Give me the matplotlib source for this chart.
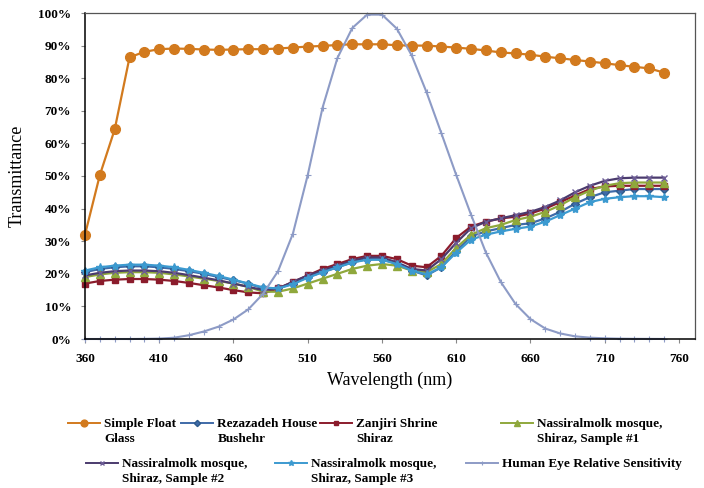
import matplotlib
matplotlib.use("Agg")
import matplotlib.pyplot as plt
from matplotlib.lines import Line2D
from matplotlib.ticker import FixedLocator, FuncFormatter, MultipleLocator

# Wavelength grid (nm)
wavelength = list(range(360, 760, 10))
x_ticks = [360, 410, 460, 510, 560, 610, 660, 710, 760]

# Transmittance (%) of each glass sample
simple_float = [32.0, 50.3, 64.3, 86.4, 88.1, 88.9, 89.1, 89.0, 88.8, 88.7,
                88.8, 88.9, 88.9, 89.1, 89.4, 89.7, 89.9, 90.2, 90.4, 90.4,
                90.4, 90.1, 90.0, 90.0, 89.7, 89.4, 89.0, 88.5, 87.9, 87.6,
                87.2, 86.6, 86.1, 85.6, 85.1, 84.6, 84.0, 83.5, 83.0, 81.7]
rezazadeh = [20.5, 21.5, 22.0, 22.3, 22.3, 22.0, 21.5, 20.8, 20.0, 19.0,
             18.0, 17.0, 15.5, 15.5, 17.0, 19.0, 20.5, 22.0, 23.5, 24.5,
             24.5, 23.0, 21.0, 19.5, 22.0, 27.0, 31.5, 33.0, 34.0, 35.0,
             35.5, 37.0, 39.0, 41.5, 43.5, 45.0, 45.5, 46.0, 46.0, 46.0]
zanjiri = [17.0, 17.8, 18.2, 18.4, 18.4, 18.2, 17.8, 17.2, 16.5, 15.8,
           15.0, 14.3, 14.0, 15.5, 17.5, 19.5, 21.5, 23.0, 24.5, 25.5,
           25.5, 24.5, 22.5, 22.0, 25.5, 31.0, 34.5, 36.0, 37.0, 37.5,
           38.5, 40.0, 42.0, 44.0, 46.0, 46.8, 47.0, 47.0, 47.0, 47.0]
nassir_1 = [19.0, 19.8, 20.3, 20.5, 20.5, 20.3, 19.8, 19.2, 18.5, 17.8,
            17.0, 16.0, 14.5, 14.5, 15.5, 17.0, 18.5, 20.0, 21.5, 22.5,
            23.0, 22.5, 21.0, 20.5, 23.0, 28.0, 32.0, 34.0, 35.0, 36.5,
            37.5, 39.0, 41.0, 43.5, 45.5, 47.0, 47.8, 48.0, 48.0, 48.0]
nassir_2 = [19.5, 20.3, 20.8, 21.0, 21.0, 20.8, 20.3, 19.6, 18.8, 18.0,
            17.0, 16.0, 15.0, 15.5, 17.5, 19.5, 21.0, 22.5, 24.0, 25.0,
            25.0, 23.5, 21.5, 21.0, 24.5, 29.5, 34.0, 36.0, 37.0, 38.0,
            39.0, 40.5, 42.5, 45.0, 47.0, 48.5, 49.3, 49.5, 49.5, 49.5]
nassir_3 = [21.0, 22.0, 22.5, 22.8, 22.8, 22.5, 22.0, 21.2, 20.3, 19.3,
            18.2, 17.0, 15.8, 15.5, 16.8, 18.8, 20.5, 22.0, 23.5, 24.3,
            24.3, 23.0, 21.0, 19.8, 22.0, 26.5, 30.5, 32.0, 33.0, 33.8,
            34.5, 36.0, 38.0, 40.0, 42.0, 43.0, 43.5, 43.8, 43.8, 43.5]
# Photopic relative sensitivity of the human eye (%)
human_eye = [0.0, 0.0, 0.0, 0.0, 0.04, 0.12, 0.4, 1.16, 2.3, 3.8,
             6.0, 9.1, 13.9, 20.8, 32.3, 50.3, 71.0, 86.2, 95.4, 99.5,
             99.5, 95.2, 87.0, 75.7, 63.1, 50.3, 38.1, 26.5, 17.5, 10.7,
             6.1, 3.2, 1.7, 0.82, 0.41, 0.21, 0.1, 0.05, 0.03, 0.01]

labels = [("Simple Float", "Glass"), ("Rezazadeh House", "Bushehr"),
          ("Zanjiri Shrine", "Shiraz"),
          ("Nassiralmolk mosque,", "Shiraz, Sample #1"),
          ("Nassiralmolk mosque,", "Shiraz, Sample #2"),
          ("Nassiralmolk mosque,", "Shiraz, Sample #3"),
          ("Human Eye Relative Sensitivity", "")]

serif = "Liberation Serif"
W, H = 704, 488

fig = plt.figure(figsize=(W / 100, H / 100), dpi=100)
ax = fig.add_axes([85 / W, 1 - 339 / H, 610 / W, 326 / H])

styles = [
    dict(color="#D27A1E", marker="o", ms=7, lw=1.6, mec="#D27A1E"),
    dict(color="#3F6AA8", marker="D", ms=4.5, lw=1.6, mec="#2E5B8C"),
    dict(color="#8B1C2C", marker="s", ms=5, lw=1.6, mec="#8B1C2C"),
    dict(color="#8FA83C", marker="^", ms=5.5, lw=1.6, mec="#8FA83C"),
    dict(color="#4B3B6E", marker="x", ms=5, lw=1.6, mec="#6C5C96", mew=1.0),
    dict(color="#3C9AD0", marker="*", ms=6, lw=1.6, mec="#3C9AD0"),
    dict(color="#8D9BC6", marker="+", ms=5, lw=1.5, mec="#8D9BC6", mew=0.8),
]
series = [simple_float, rezazadeh, zanjiri, nassir_1, nassir_2, nassir_3,
          human_eye]

handles = []
for vals, st in zip(series, styles):
    h, = ax.plot(wavelength, vals, clip_on=False, **st)
    handles.append(h)

ax.set_xlim(360, 770.8)
ax.set_ylim(0, 100)
ax.xaxis.set_major_locator(FixedLocator(x_ticks))
ax.yaxis.set_major_locator(MultipleLocator(10))
ax.yaxis.set_major_formatter(FuncFormatter(lambda v, p: f"{v:.0f}%"))
ax.tick_params(axis="both", direction="out", length=3, width=0.8,
               color="#888888", pad=7)
for lab in ax.get_xticklabels() + ax.get_yticklabels():
    lab.set_fontfamily(serif)
    lab.set_fontweight("bold")
    lab.set_fontsize(9.5)
for side in ["top", "right"]:
    ax.spines[side].set_color("#555555")
    ax.spines[side].set_linewidth(0.9)
for side in ["left", "bottom"]:
    ax.spines[side].set_color("black")
    ax.spines[side].set_linewidth(1.1)

ax.set_xlabel("Wavelength (nm)", fontfamily=serif, fontsize=13, labelpad=5)
ax.set_ylabel("Transmittance", fontfamily=serif, fontsize=13, labelpad=9)

# Legend entries beneath the plot, two rows; the handle sits beside the
# first line of each label and the second line is set just under it.
legend_font = dict(family=serif, weight="bold", size=9.5)
legend_spots = [(68, 418), (181, 418), (320, 418), (501, 418),
                (86, 458), (275, 458), (466, 458)]
entries = []
for h, (first, second), (px, py) in zip(handles, labels, legend_spots):
    proxy = Line2D([], [], color=h.get_color(), marker=h.get_marker(),
                   ms=h.get_markersize() * 0.7, lw=1.4,
                   mec=h.get_markeredgecolor(), mew=h.get_markeredgewidth())
    leg = fig.legend([proxy], [first], loc="upper left",
                     bbox_to_anchor=(px / W, 1 - py / H),
                     frameon=False, borderpad=0, borderaxespad=0,
                     handlelength=2.4, handletextpad=0.35, prop=legend_font)
    entries.append((leg, second))

fig.canvas.draw()
for leg, second in entries:
    if not second:
        continue
    bb = leg.get_texts()[0].get_window_extent()
    fig.text(bb.x0 / W, (bb.y0 - 15) / H, second, ha="left", va="bottom",
             fontfamily=serif, fontweight="bold", fontsize=9.5)

fig.savefig("out.png", dpi=100, facecolor="white")
